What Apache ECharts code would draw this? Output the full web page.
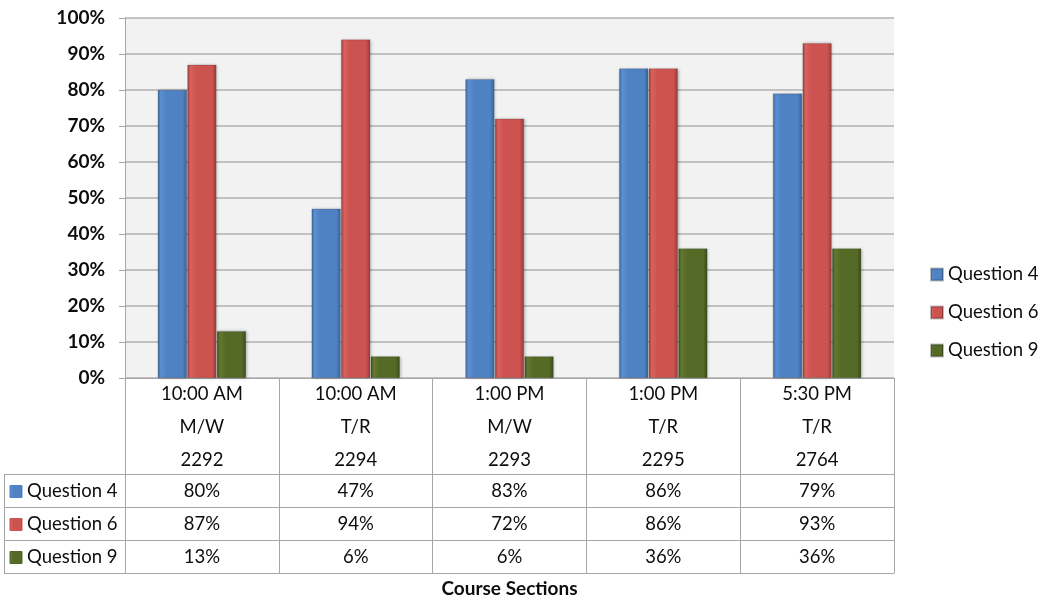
<!DOCTYPE html>
<html>
<head>
<meta charset="utf-8">
<script src="https://cdn.jsdelivr.net/npm/echarts@6/dist/echarts.min.js"></script>
<style>
  html, body { margin: 0; padding: 0; background: #fff; }
  #chart { width: 1043px; height: 602px; }
</style>
</head>
<body>
<div id="chart"></div>
<script>
// Course sections (three header lines per column)
const times = ['10:00 AM', '10:00 AM', '1:00 PM', '1:00 PM', '5:30 PM'];
const days = ['M/W', 'T/R', 'M/W', 'T/R', 'T/R'];
const sections = ['2292', '2294', '2293', '2295', '2764'];

// Percent correct per question
const seriesNames = ['Question 4', 'Question 6', 'Question 9'];
const question4 = [80, 47, 83, 86, 79];
const question6 = [87, 94, 72, 86, 93];
const question9 = [13, 6, 6, 36, 36];

const yTicks = [0, 10, 20, 30, 40, 50, 60, 70, 80, 90, 100];

const FONT = 'Lato, "Open Sans", sans-serif';
const LINE = '#a6a6a6';
const TEXT = '#0d0d0d';
const FS = 18.5;

const categories = times.map((t, i) => t + '\n' + days[i] + '\n' + sections[i]);
const seriesValues = [question4, question6, question9];

// Bevelled bar fills: dark edges, lighter near the left, base colour in the middle
function bevel(edge, light, base) {
  return new echarts.graphic.LinearGradient(0, 0, 1, 0, [
    { offset: 0, color: edge },
    { offset: 0.1, color: light },
    { offset: 0.3, color: base },
    { offset: 0.85, color: base },
    { offset: 1, color: edge }
  ]);
}
const fills = [
  bevel('#3a6399', '#5c90d2', '#4f82c3'),
  bevel('#9a3b39', '#d8625f', '#cc5350'),
  bevel('#3c4c1d', '#63792f', '#556a27')
];
const iconColors = ['#4f82c3', '#cc5350', '#556a27'];

const GRID = { left: 125, right: 149, top: 18, bottom: 224 };
const ROW = 33;
const HEADER = 96;

const chart = echarts.init(document.getElementById('chart'));

// Axes forming the data table under the plot
const rowAxes = seriesValues.map((vals, r) => ({
  type: 'category',
  gridIndex: 0,
  position: 'bottom',
  offset: HEADER + r * ROW,
  data: vals.map(v => v + '%'),
  axisLine: { show: true, lineStyle: { color: LINE, width: 1 } },
  axisTick: { show: false },
  axisLabel: { margin: 1, lineHeight: ROW, fontSize: FS, color: TEXT, fontFamily: FONT }
}));

// Left column of the table: series key + name for each row
const graphics = [];
const top0 = 602 - GRID.bottom + HEADER;
for (let r = 0; r <= seriesValues.length; r++) {
  graphics.push({
    type: 'line',
    shape: { x1: 4, y1: top0 + r * ROW + 0.5, x2: GRID.left, y2: top0 + r * ROW + 0.5 },
    style: { stroke: LINE, lineWidth: 1 }
  });
}
graphics.push({
  type: 'line',
  shape: { x1: 4.5, y1: top0, x2: 4.5, y2: top0 + seriesValues.length * ROW },
  style: { stroke: LINE, lineWidth: 1 }
});
seriesNames.forEach((name, r) => {
  const cy = top0 + r * ROW + ROW / 2 + 1;
  graphics.push({
    type: 'rect',
    shape: { x: 10, y: cy - 6, width: 12, height: 12 },
    style: { fill: fills[r], stroke: iconColors[r] }
  });
  graphics.push({
    type: 'text',
    x: 27, y: cy,
    style: { text: name, fontSize: FS, fontFamily: FONT, fill: TEXT, verticalAlign: 'middle', align: 'left' }
  });
});

const option = {
  animation: false,
  backgroundColor: '#fff',
  grid: {
    left: GRID.left, right: GRID.right, top: GRID.top, bottom: GRID.bottom,
    outerBoundsMode: 'none',
    containLabel: false,
    show: true, backgroundColor: '#f2f2f2', borderWidth: 0
  },
  legend: {
    orient: 'vertical',
    left: 925,
    top: 259,
    itemWidth: 12,
    itemHeight: 12,
    itemGap: 17,
    icon: 'rect',
    data: seriesNames,
    textStyle: { fontSize: FS, fontFamily: FONT, color: TEXT, lineHeight: 21 }
  },
  xAxis: [
    {
      type: 'category',
      gridIndex: 0,
      position: 'bottom',
      data: categories,
      axisLine: { show: true, lineStyle: { color: LINE, width: 1 } },
      axisTick: { show: true, length: HEADER + seriesValues.length * ROW, inside: false, lineStyle: { color: LINE, width: 1 } },
      axisLabel: { interval: 0, margin: 0, lineHeight: ROW, fontSize: FS, color: TEXT, fontFamily: FONT }
    },
    ...rowAxes,
    {
      type: 'category',
      gridIndex: 0,
      position: 'bottom',
      offset: HEADER + seriesValues.length * ROW,
      data: categories,
      axisLine: { show: true, lineStyle: { color: LINE, width: 1 } },
      axisTick: { show: false },
      axisLabel: { show: false },
      name: 'Course Sections',
      nameLocation: 'middle',
      nameGap: 6,
      nameTextStyle: { fontSize: 19, fontWeight: 'bold', color: TEXT, fontFamily: FONT }
    }
  ],
  yAxis: {
    type: 'value',
    min: yTicks[0] / 100,
    max: yTicks[yTicks.length - 1] / 100,
    interval: (yTicks[1] - yTicks[0]) / 100,
    axisLine: { show: true, lineStyle: { color: LINE, width: 1 } },
    axisTick: { show: true, length: 6, lineStyle: { color: LINE } },
    axisLabel: {
      margin: 20,
      fontSize: 19,
      fontWeight: 'bold',
      color: TEXT,
      fontFamily: FONT,
      formatter: v => Math.round(v * 100) + '%'
    },
    splitLine: { show: true, lineStyle: { color: '#b0b0b0', width: 1.5 } }
  },
  series: seriesNames.map((name, i) => ({
    name,
    type: 'bar',
    xAxisIndex: 0,
    yAxisIndex: 0,
    barWidth: 29,
    barGap: '2%',
    data: seriesValues[i].map(v => v / 100),
    itemStyle: {
      color: fills[i],
      borderColor: 'rgba(0,0,0,0.25)',
      borderWidth: 0.5,
      shadowColor: 'rgba(0,0,0,0.25)',
      shadowBlur: 3,
      shadowOffsetX: 1,
      shadowOffsetY: 0
    }
  })),
  graphic: graphics
};

chart.setOption(option);
</script>
</body>
</html>
